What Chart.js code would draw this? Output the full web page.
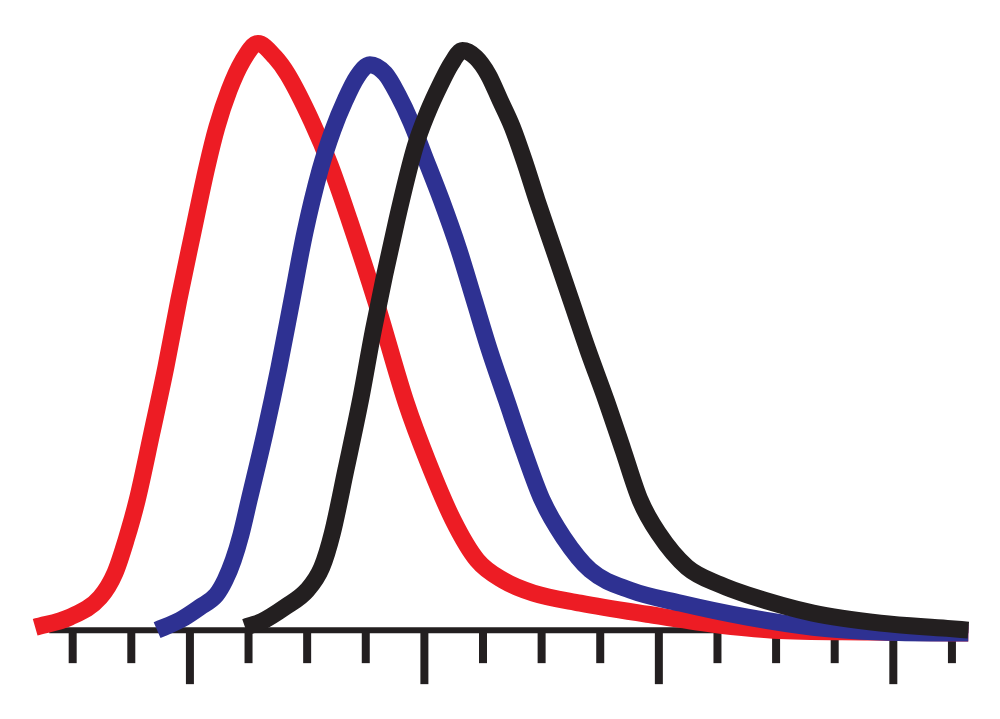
<!DOCTYPE html>
<html>
<head>
<meta charset="utf-8">
<script src="https://cdn.jsdelivr.net/npm/chart.js@4"></script>
<style>
  html, body { margin: 0; padding: 0; background: #fff; }
  #wrap { width: 1000px; height: 719px; }
</style>
</head>
<body>
<div id="wrap"><canvas id="curves"></canvas></div>
<script>
// x in tick units (one unit per tick mark), y as height above the baseline (peak ~100)
const redX   = [-0.64, -0.05, 0.47, 0.72, 0.91, 1.10, 1.35, 1.59, 1.81, 2.05, 2.29, 2.46, 2.67, 2.89, 3.16, 3.45, 3.67, 4.08, 4.39, 4.72, 5.18, 5.69, 6.05, 6.49, 6.90, 7.34, 7.86, 8.66, 9.80, 10.93, 11.95, 13.60, 15.28];
const redY   = [0.5, 2.2, 5.6, 9.7, 15.3, 22.1, 33.5, 44.7, 56.1, 67.5, 78.7, 85.5, 91.8, 96.6, 99.7, 97.4, 94.4, 86.4, 79.1, 69.7, 55.6, 38.6, 28.9, 18.7, 11.9, 8.5, 6.3, 4.6, 2.7, 1.0, 0.0, -0.3, -0.5];

const blueX  = [1.44, 1.83, 2.17, 2.45, 2.60, 2.74, 2.87, 3.01, 3.28, 3.52, 3.74, 3.96, 4.22, 4.44, 4.65, 4.85, 5.07, 5.33, 5.55, 5.77, 5.99, 6.29, 6.59, 6.85, 7.11, 7.40, 7.69, 8.01, 8.37, 8.83, 9.51, 10.36, 11.51, 12.63, 13.78, 15.28];
const blueY  = [0.0, 1.7, 3.9, 6.0, 8.5, 11.9, 16.2, 22.1, 33.5, 44.7, 56.1, 67.5, 78.2, 85.0, 90.1, 94.0, 96.1, 94.6, 91.0, 86.4, 80.8, 73.1, 64.6, 56.1, 47.6, 39.1, 30.6, 22.1, 15.8, 10.2, 6.8, 4.6, 2.2, 0.5, -0.3, -0.5];

const blackX = [2.94, 3.23, 3.62, 4.00, 4.25, 4.43, 4.66, 4.92, 5.13, 5.53, 5.84, 6.06, 6.27, 6.46, 6.65, 6.88, 7.09, 7.29, 7.50, 7.70, 7.92, 8.21, 8.50, 8.79, 9.10, 9.39, 9.68, 9.99, 10.48, 11.05, 11.51, 12.63, 13.78, 14.92, 15.28];
const blackY = [0.5, 1.5, 3.9, 6.8, 10.7, 16.5, 27.2, 39.6, 51.0, 69.7, 82.1, 88.1, 92.7, 96.3, 98.5, 97.3, 94.4, 90.1, 85.5, 79.9, 73.1, 64.6, 56.1, 47.6, 39.1, 30.6, 22.1, 16.5, 10.7, 7.7, 6.0, 2.9, 1.2, 0.3, 0.0];

// axis ticks
const tickValues = [0, 1, 2, 3, 4, 5, 6, 7, 8, 9, 10, 11, 12, 13, 14, 15];
const majorTicks = [2, 6, 10, 14];
const axisStart = -0.4;
const axisEnd = 15.28;

const RED = '#ed1c24';
const BLUE = '#2e3192';
const BLACK = '#231f20';

function toPoints(xs, ys) {
  return xs.map((x, i) => ({ x: x, y: ys[i] }));
}

// baseline and tick marks drawn under the curves
const axisPlugin = {
  id: 'axisPlugin',
  beforeDatasetsDraw(chart) {
    const ctx = chart.ctx;
    const xs = chart.scales.x;
    const ys = chart.scales.y;
    const y0 = ys.getPixelForValue(0);
    ctx.save();
    ctx.strokeStyle = BLACK;
    ctx.lineCap = 'butt';
    ctx.lineWidth = 6;
    ctx.beginPath();
    ctx.moveTo(xs.getPixelForValue(axisStart), y0);
    ctx.lineTo(xs.getPixelForValue(axisEnd), y0);
    ctx.stroke();
    ctx.lineWidth = 8;
    tickValues.forEach(v => {
      const px = xs.getPixelForValue(v);
      const len = majorTicks.includes(v) ? 54 : 33;
      ctx.beginPath();
      ctx.moveTo(px, y0);
      ctx.lineTo(px, y0 + len);
      ctx.stroke();
    });
    ctx.restore();
  }
};

document.addEventListener('DOMContentLoaded', function () {
  const ctx = document.getElementById('curves').getContext('2d');
  const lineStyle = {
    borderWidth: 17,
    pointRadius: 0,
    fill: false,
    cubicInterpolationMode: 'monotone',
    borderCapStyle: 'butt',
    borderJoinStyle: 'round',
    clip: false
  };
  new Chart(ctx, {
    type: 'line',
    data: {
      datasets: [
        Object.assign({ label: 'black', data: toPoints(blackX, blackY), borderColor: BLACK }, lineStyle),
        Object.assign({ label: 'blue', data: toPoints(blueX, blueY), borderColor: BLUE }, lineStyle),
        Object.assign({ label: 'red', data: toPoints(redX, redY), borderColor: RED }, lineStyle)
      ]
    },
    options: {
      responsive: true,
      maintainAspectRatio: false,
      animation: false,
      layout: { padding: 0 },
      plugins: {
        legend: { display: false },
        tooltip: { enabled: false }
      },
      scales: {
        x: { type: 'linear', min: -1.24, max: 15.82, display: false },
        y: { type: 'linear', min: -15.1, max: 107.1, display: false }
      }
    },
    plugins: [axisPlugin]
  });
});
</script>
</body>
</html>
